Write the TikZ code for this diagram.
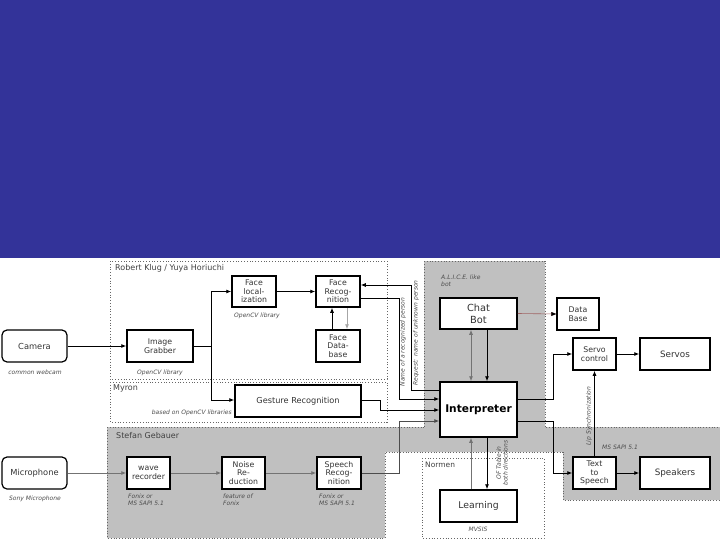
\documentclass[tikz,border=0pt]{standalone}
\usepackage{fontspec}
\setmainfont{DejaVu Sans}
\usetikzlibrary{arrows.meta}
\definecolor{slideblue}{RGB}{51,51,153}
\definecolor{grayfill}{RGB}{192,192,192}
\definecolor{redline}{RGB}{160,100,100}
\begin{document}
\begin{tikzpicture}[x=1pt,y=-1pt,
  box/.style={draw=black,line width=1.5pt,fill=white,inner sep=0pt,align=center,
    text=black!80,font=\fontsize{7.8}{8.6}\selectfont},
  rbox/.style={box,rounded corners=5pt,line width=1.2pt,font=\fontsize{8.3}{9}\selectfont},
  captxt/.style={font=\fontsize{6}{6.8}\selectfont\itshape,text=black!70,inner sep=0pt,align=left},
  grp/.style={font=\fontsize{8}{9}\selectfont,text=black!75,inner sep=0pt,anchor=west},
  arr/.style={-{Latex[length=5pt,width=4pt]},line width=0.8pt},
  garr/.style={arr,draw=black!55},
  dots/.style={dotted,line width=0.8pt,draw=black!60}]
\useasboundingbox (0,0) rectangle (720,540);
\fill[white] (0,0) rectangle (720,540);
\fill[slideblue] (0,0) rectangle (720,258);

% gray regions
\fill[grayfill] (107,427) -- (424,427) -- (424,261) -- (545,261)
  -- (545,427) -- (720,427) -- (720,500) -- (563,500) -- (563,452) -- (385,452)
  -- (385,538) -- (107,538) -- cycle;
\draw[dots] (107,427) -- (424,427);
\draw[dots] (107,427) -- (107,538) -- (385,538) -- (385,452) -- (563,452) -- (563,500) -- (720,500);
\draw[dots] (424,261) -- (545,261) -- (545,427) -- (720,427);
\draw[dots] (424,261) -- (424,427);

% dotted groups
\draw[dots] (110,261) rectangle (387,379);
\draw[dots] (110,382) rectangle (387,422);
\draw[dots] (422,458) rectangle (544,538);

\node[grp] (lrk) at (115,268) {Robert Klug / Yuya Horiuchi};
\node[grp] (lmy) at (113,388) {Myron};
\node[grp] (lsg) at (116,436) {Stefan Gebauer};
\node[grp,font=\fontsize{7.5}{8.5}\selectfont] (lno) at (425,465) {Normen};
\node[captxt,anchor=north west] (lal) at (441,275) {A.L.I.C.E. like\\bot};
\node[captxt,anchor=west] (lms) at (602,447) {MS SAPI 5.1};

% nodes
\node[rbox,minimum width=65pt,minimum height=32pt] (camera) at (34.5,346) {Camera};
\node[box,minimum width=66pt,minimum height=32pt] (grabber) at (160,346) {Image\\Grabber};
\node[box,minimum width=44pt,minimum height=31pt] (faceloc) at (254,291.5) {Face\\local-\\ization};
\node[box,minimum width=44pt,minimum height=31pt] (facerec) at (338,291.5) {Face\\Recog-\\nition};
\node[box,minimum width=44pt,minimum height=32pt] (facedb) at (338,346) {Face\\Data-\\base};
\node[box,minimum width=126pt,minimum height=32pt,font=\fontsize{8.2}{9}\selectfont] (gesture) at (298,401) {Gesture Recognition};
\node[box,minimum width=77pt,minimum height=31pt,font=\fontsize{9.8}{12}\selectfont] (chatbot) at (478.5,313.5) {Chat\\Bot};
\node[box,minimum width=77pt,minimum height=55pt,text=black,font=\fontsize{10.6}{12}\selectfont\bfseries] (interp) at (478.5,409.5) {Interpreter};
\node[box,minimum width=42pt,minimum height=32pt] (database) at (578,314) {Data\\Base};
\node[box,minimum width=43pt,minimum height=32pt] (servoctl) at (594.5,354) {Servo\\control};
\node[box,minimum width=70pt,minimum height=32pt,font=\fontsize{8.8}{10}\selectfont] (servos) at (675,354) {Servos};
\node[box,minimum width=43pt,minimum height=32pt] (tts) at (594.5,473) {Text\\to\\Speech};
\node[box,minimum width=70pt,minimum height=32pt,font=\fontsize{8.8}{10}\selectfont] (speakers) at (675,473) {Speakers};
\node[box,minimum width=77pt,minimum height=32pt,font=\fontsize{9.3}{10}\selectfont] (learning) at (478.5,506) {Learning};
\node[rbox,minimum width=65pt,minimum height=32pt] (mic) at (34.5,473) {Microphone};
\node[box,minimum width=43pt,minimum height=32pt] (wave) at (148.5,473) {wave\\recorder};
\node[box,minimum width=43pt,minimum height=32pt] (noise) at (243.5,473) {Noise\\Re-\\duction};
\node[box,minimum width=44pt,minimum height=32pt] (speech) at (339,473) {Speech\\Recog-\\nition};

% captions
\node[captxt] (c1) at (35,372) {common webcam};
\node[captxt] (c2) at (160,373) {OpenCV library};
\node[captxt] (c3) at (257,316) {OpenCV library};
\node[captxt,anchor=east] (c4) at (232,413) {based on OpenCV libraries};
\node[captxt] (c5) at (35,499) {Sony Microphone};
\node[captxt,anchor=north west] (c6) at (128,494) {Fonix or\\MS SAPI 5.1};
\node[captxt,anchor=north west] (c7) at (223,494) {feature of\\Fonix};
\node[captxt,anchor=north west] (c8) at (319,494) {Fonix or\\MS SAPI 5.1};
\node[captxt] (c9) at (478,529) {MVSIS};

% connectors
\draw[arr] (camera) -- (grabber);
\coordinate (split) at (211,346);
\draw[arr] (grabber.east) -- (split) |- (faceloc.west);
\draw[arr] (split) |- ([yshift=1pt]gesture.west);
\draw[arr] (faceloc) -- (facerec);
\draw[arr] ([xshift=-6pt]facedb.north) -- ([xshift=-6pt]facerec.south);
\draw[garr,draw=black!35] ([xshift=9pt]facerec.south) -- ([xshift=9pt]facedb.north);
\draw[arr] ([yshift=-6.5pt]facerec.east) -- ++(39,0) |- ([yshift=10.5pt]interp.west);
\draw[arr] ([yshift=19.5pt]interp.west) -- ++(-28,0) |- ([yshift=6.5pt]facerec.east);
\draw[arr] ([yshift=1pt]gesture.east) -- ++(19,0) |- ([yshift=-0.5pt]interp.west);
\draw[arr,draw=black!70] (speech.east) -- ++(38,0) |- ([yshift=-11.5pt]interp.west);
\draw[garr] (mic) -- (wave);
\draw[garr] (wave) -- (noise);
\draw[garr] (noise) -- (speech);
\draw[{Latex[length=5pt,width=4pt]}-{Latex[length=5pt,width=4pt]},line width=0.8pt,draw=black!55] ([xshift=-7.5pt]chatbot.south) -- ([xshift=-7.5pt]interp.north);
\draw[arr] ([xshift=8.5pt]chatbot.south) -- ([xshift=8.5pt]interp.north);
\draw[arr,draw=redline,line width=0.6pt] (chatbot.east) -- (database.west);
\fill[black] (database.west) -- ++(-5,-2) -- ++(0,4) -- cycle;
\draw[arr] ([yshift=10.5pt]interp.east) -- ++(36,0) |- (servoctl.west);
\draw[arr] ([yshift=-11.5pt]interp.east) -- ++(36,0) |- (tts.west);
\draw[arr] (servoctl) -- (servos);
\draw[arr] (tts) -- (speakers);
\draw[arr] (tts.north) -- (servoctl.south);
\draw[garr] ([xshift=-7.5pt]learning.north) -- ([xshift=-7.5pt]interp.south);
\draw[arr] ([xshift=8.5pt]interp.south) -- ([xshift=8.5pt]learning.north);

% rotated labels
\node[captxt,rotate=90] (lname) at (403,342) {Name of a recognized person};
\node[captxt,rotate=90] (lreq) at (416,333) {Request: name of unknown person};
\node[captxt,rotate=90] (llip) at (589,416) {Lip Synchronization};
\node[captxt,rotate=90,align=center] (lof) at (502,463) {OF Table in\\both directions};
\end{tikzpicture}
\end{document}
